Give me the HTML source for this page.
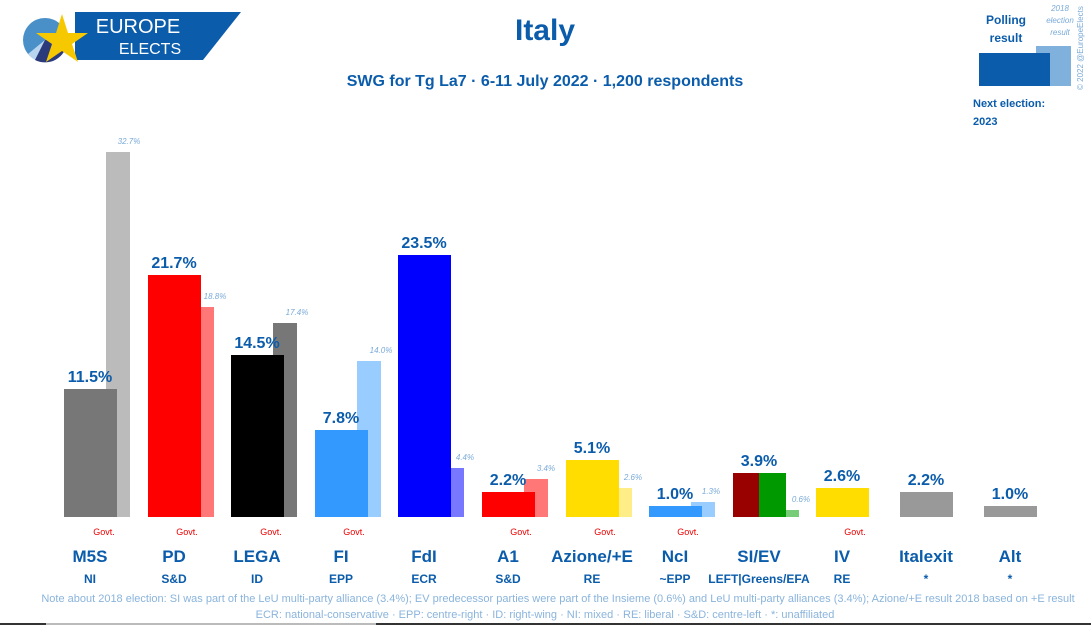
<!DOCTYPE html>
<html><head><meta charset="utf-8"><style>
body{margin:0;background:#fff}
svg{display:block;font-family:"Liberation Sans",sans-serif}
.v{fill:#0b5cab;font-size:16px;font-weight:bold;text-anchor:middle}
.o{fill:#7aaad8;font-size:8px;font-style:italic;text-anchor:middle}
.g{fill:#e00;font-size:9px;text-anchor:middle}
.n{fill:#0b5cab;font-size:17px;font-weight:bold;text-anchor:middle}
.f{fill:#0b5cab;font-size:12px;font-weight:bold;text-anchor:middle}
.note{fill:#8ab4dc;font-size:11px;text-anchor:middle}
</style></head><body>
<svg width="1091" height="625" viewBox="0 0 1091 625">
<!-- logo -->
<polygon points="75,12 241,12 203,60 75,60" fill="#0b5cab"/>
<circle cx="45" cy="40" r="22" fill="#4a90c8"/>
<path d="M45,40 L45,62 A22,22 0 0 1 28,54 Z" fill="#b8d4ee"/>
<path d="M45,40 L67,42 A22,22 0 0 1 35,60 Z" fill="#2a3a7a"/>
<polygon points="62,14 68,33 88,33 72,44 78,62 62,51 46,62 52,44 36,33 56,33" fill="#f6c800"/>
<text x="138" y="33" fill="#fff" font-size="20" text-anchor="middle">EUROPE</text>
<text x="150" y="54" fill="#fff" font-size="16" text-anchor="middle">ELECTS</text>
<!-- title -->
<text x="545" y="40" fill="#0b5cab" font-size="30" font-weight="bold" text-anchor="middle">Italy</text>
<text x="545" y="86" fill="#0b5cab" font-size="16" font-weight="bold" text-anchor="middle">SWG for Tg La7 · 6-11 July 2022 · 1,200 respondents</text>
<!-- legend -->
<rect x="1036" y="46" width="35" height="40" fill="#80b0dc"/>
<rect x="979" y="53" width="71" height="33" fill="#0b5cab"/>
<text x="1006" y="24" fill="#0b5cab" font-size="12" font-weight="bold" text-anchor="middle">Polling</text>
<text x="1006" y="42" fill="#0b5cab" font-size="12" font-weight="bold" text-anchor="middle">result</text>
<text x="1060" y="11" class="o" font-size="8">2018</text>
<text x="1060" y="23" class="o" font-size="8">election</text>
<text x="1060" y="35" class="o" font-size="8">result</text>
<text x="973" y="107" fill="#0b5cab" font-size="11" font-weight="bold">Next election:</text>
<text x="973" y="125" fill="#0b5cab" font-size="11" font-weight="bold">2023</text>
<text transform="translate(1083,90) rotate(-90)" fill="#7aaad8" font-size="8">© 2022 @EuropeElects</text>
<!-- bars: old then new -->
<rect x="106" y="152" width="24" height="365" fill="#bbb"/><rect x="64" y="389" width="53" height="128" fill="#777"/>
<rect x="190" y="307" width="24" height="210" fill="#f77"/><rect x="148" y="275" width="53" height="242" fill="#f00"/>
<rect x="273" y="323" width="24" height="194" fill="#777"/><rect x="231" y="355" width="53" height="162" fill="#000"/>
<rect x="357" y="361" width="24" height="156" fill="#9cf"/><rect x="315" y="430" width="53" height="87" fill="#39f"/>
<rect x="440" y="468" width="24" height="49" fill="#77f"/><rect x="398" y="255" width="53" height="262" fill="#00f"/>
<rect x="524" y="479" width="24" height="38" fill="#f77"/><rect x="482" y="492" width="53" height="25" fill="#f00"/>
<rect x="608" y="488" width="24" height="29" fill="#fe8"/><rect x="566" y="460" width="53" height="57" fill="#fd0"/>
<rect x="691" y="502" width="24" height="15" fill="#9cf"/><rect x="649" y="506" width="53" height="11" fill="#39f"/>
<rect x="775" y="510" width="24" height="7" fill="#7c7"/><rect x="733" y="473" width="26" height="44" fill="#900"/><rect x="759" y="473" width="27" height="44" fill="#090"/>
<rect x="816" y="488" width="53" height="29" fill="#fd0"/>
<rect x="900" y="492" width="53" height="25" fill="#999"/>
<rect x="984" y="506" width="53" height="11" fill="#999"/>
<!-- values -->
<text class="v" x="90" y="382">11.5%</text><text class="o" x="129" y="144">32.7%</text>
<text class="v" x="174" y="268">21.7%</text><text class="o" x="215" y="299">18.8%</text>
<text class="v" x="257" y="348">14.5%</text><text class="o" x="297" y="315">17.4%</text>
<text class="v" x="341" y="423">7.8%</text><text class="o" x="381" y="353">14.0%</text>
<text class="v" x="424" y="248">23.5%</text><text class="o" x="465" y="460">4.4%</text>
<text class="v" x="508" y="485">2.2%</text><text class="o" x="546" y="471">3.4%</text>
<text class="v" x="592" y="453">5.1%</text><text class="o" x="633" y="480">2.6%</text>
<text class="v" x="675" y="499">1.0%</text><text class="o" x="711" y="494">1.3%</text>
<text class="v" x="759" y="466">3.9%</text><text class="o" x="801" y="502">0.6%</text>
<text class="v" x="842" y="481">2.6%</text>
<text class="v" x="926" y="485">2.2%</text>
<text class="v" x="1010" y="499">1.0%</text>
<!-- govt -->
<text class="g" x="104" y="535">Govt.</text><text class="g" x="187" y="535">Govt.</text><text class="g" x="271" y="535">Govt.</text><text class="g" x="354" y="535">Govt.</text><text class="g" x="521" y="535">Govt.</text><text class="g" x="605" y="535">Govt.</text><text class="g" x="688" y="535">Govt.</text><text class="g" x="855" y="535">Govt.</text>
<!-- names -->
<g>
<text class="n" x="90" y="562">M5S</text><text class="f" x="90" y="583">NI</text>
<text class="n" x="174" y="562">PD</text><text class="f" x="174" y="583">S&amp;D</text>
<text class="n" x="257" y="562">LEGA</text><text class="f" x="257" y="583">ID</text>
<text class="n" x="341" y="562">FI</text><text class="f" x="341" y="583">EPP</text>
<text class="n" x="424" y="562">FdI</text><text class="f" x="424" y="583">ECR</text>
<text class="n" x="508" y="562">A1</text><text class="f" x="508" y="583">S&amp;D</text>
<text class="n" x="592" y="562">Azione/+E</text><text class="f" x="592" y="583">RE</text>
<text class="n" x="675" y="562">NcI</text><text class="f" x="675" y="583">~EPP</text>
<text class="n" x="759" y="562">SI/EV</text><text class="f" x="759" y="583">LEFT|Greens/EFA</text>
<text class="n" x="842" y="562">IV</text><text class="f" x="842" y="583">RE</text>
<text class="n" x="926" y="562">Italexit</text><text class="f" x="926" y="583">*</text>
<text class="n" x="1010" y="562">Alt</text><text class="f" x="1010" y="583">*</text>
</g>
<text class="note" x="558" y="602">Note about 2018 election: SI was part of the LeU multi-party alliance (3.4%); EV predecessor parties were part of the Insieme (0.6%) and LeU multi-party alliances (3.4%); Azione/+E result 2018 based on +E result</text>
<text class="note" x="545" y="618">ECR: national-conservative · EPP: centre-right · ID: right-wing · NI: mixed · RE: liberal · S&amp;D: centre-left · *: unaffiliated</text>
<rect x="0" y="623" width="46" height="2" fill="#333"/><rect x="46" y="623" width="330" height="2" fill="#bbb"/><rect x="376" y="623" width="715" height="2" fill="#333"/>
</svg>
</body></html>
